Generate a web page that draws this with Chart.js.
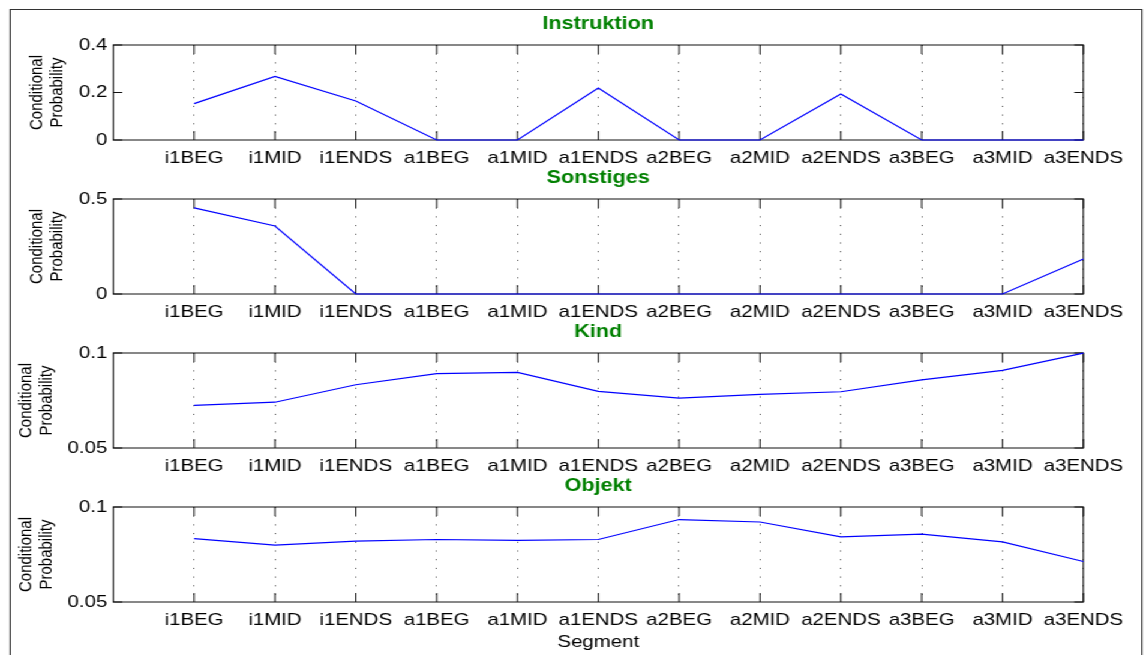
<!DOCTYPE html>
<html>
<head>
<meta charset="utf-8">
<script src="https://cdn.jsdelivr.net/npm/chart.js@4.4.1/dist/chart.umd.min.js"></script>
<style>
  html, body { margin: 0; padding: 0; background: #fff; overflow: hidden; }
  /* the figure is laid out narrow and widened horizontally as one piece */
  #fig { position: absolute; left: 0; top: 0; width: 955px; height: 655px;
         transform: scaleX(1.2); transform-origin: 0 0; }
  #frame { position: absolute; left: 7.9px; top: 9px; width: 944px; height: 700px;
           border: 1px solid #333; box-sizing: border-box; }
  canvas { position: absolute; left: 0; }
</style>
</head>
<body>
<div id="fig">
  <div id="frame"></div>
  <canvas id="p0" width="955" height="175" style="top:0px"></canvas>
  <canvas id="p1" width="955" height="175" style="top:154px"></canvas>
  <canvas id="p2" width="955" height="175" style="top:308px"></canvas>
  <canvas id="p3" width="955" height="193" style="top:462px"></canvas>
</div>
<script>
// Segment categories along the x axis
const segments = ['i1BEG', 'i1MID', 'i1ENDS', 'a1BEG', 'a1MID', 'a1ENDS',
                  'a2BEG', 'a2MID', 'a2ENDS', 'a3BEG', 'a3MID', 'a3ENDS'];

// Conditional probability per segment, one list per class
const instruktion = [0.153, 0.268, 0.164, 0, 0, 0.219, 0, 0, 0.194, 0, 0, 0];
const sonstiges   = [0.453, 0.358, 0, 0, 0, 0, 0, 0, 0, 0, 0, 0.184];
const kind        = [0.0724, 0.0741, 0.0833, 0.0891, 0.0898, 0.0798,
                     0.0762, 0.0782, 0.0796, 0.0859, 0.0909, 0.0999];
const objekt      = [0.0834, 0.0799, 0.0820, 0.0829, 0.0824, 0.0829,
                     0.0934, 0.0921, 0.0843, 0.0857, 0.0816, 0.0713];

const panelTitles = ['Instruktion', 'Sonstiges', 'Kind', 'Objekt'];
const yTickValues = [[0, 0.2, 0.4], [0, 0.5], [0.05, 0.1], [0.05, 0.1]];
const yAxisLabel = ['Conditional', 'Probability'];
const xAxisLabel = 'Segment';

const seriesList = [instruktion, sonstiges, kind, objekt];

const FONT = "'Liberation Sans', Arial, Helvetica, sans-serif";
const PLOT_LEFT = 94.4;
const PLOT_RIGHT_PAD = 52.2;
const PLOT_BOTTOM = 140;

// Axes box with inward tick marks, drawn under the data line
const axesBox = {
  id: 'axesBox',
  beforeDatasetsDraw(chart) {
    const { ctx, chartArea: a, scales: { x, y } } = chart;
    ctx.save();
    ctx.strokeStyle = '#111';
    ctx.lineWidth = 1;
    ctx.beginPath();
    x.ticks.forEach(t => {
      if (t.value === 0) return;
      const px = x.getPixelForValue(t.value);
      ctx.moveTo(px, a.bottom); ctx.lineTo(px, a.bottom - 9);
      ctx.moveTo(px, a.top);    ctx.lineTo(px, a.top + 9);
    });
    y.ticks.forEach(t => {
      const py = y.getPixelForValue(t.value);
      ctx.moveTo(a.left, py);  ctx.lineTo(a.left + 7.5, py);
      ctx.moveTo(a.right, py); ctx.lineTo(a.right - 7.5, py);
    });
    ctx.stroke();
    ctx.strokeRect(a.left, a.top, a.right - a.left, a.bottom - a.top);
    ctx.restore();
  }
};

seriesList.forEach((values, k) => {
  const canvas = document.getElementById('p' + k);
  const H = canvas.height;
  const yt = yTickValues[k];
  const last = k === seriesList.length - 1;

  new Chart(canvas, {
    type: 'line',
    data: {
      datasets: [{
        data: values.map((v, i) => ({ x: i + 1, y: v })),
        borderColor: '#0000ff',
        borderWidth: 1.2,
        pointRadius: 0,
        tension: 0,
        fill: false,
        clip: false
      }]
    },
    options: {
      responsive: false,
      animation: false,
      devicePixelRatio: 1,
      layout: { padding: { left: 0, right: PLOT_RIGHT_PAD, top: 0, bottom: 0 } },
      plugins: {
        legend: { display: false },
        tooltip: { enabled: false },
        title: {
          display: true,
          text: panelTitles[k],
          fullSize: false,
          color: '#008000',
          font: { family: FONT, size: 18, weight: 'bold' },
          padding: { top: 13.7, bottom: 9.7 }
        }
      },
      scales: {
        x: {
          type: 'linear',
          min: 0,
          max: segments.length,
          afterFit(s) { s.height = H - PLOT_BOTTOM; },
          ticks: {
            stepSize: 1,
            autoSkip: false,
            maxRotation: 0,
            minRotation: 0,
            padding: 8.5,
            color: '#000',
            font: { family: FONT, size: 17 },
            callback: v => segments[v - 1] || ''
          },
          grid: {
            display: true,
            drawTicks: false,
            lineWidth: 1,
            color: c => (c.tick && c.tick.value > 0) ? '#444' : 'rgba(0,0,0,0)'
          },
          border: { display: false, dash: [1, 7.7] },
          title: {
            display: last,
            text: xAxisLabel,
            color: '#000',
            font: { family: FONT, size: 17 },
            padding: { top: 0, bottom: 2.8 }
          }
        },
        y: {
          type: 'linear',
          min: yt[0],
          max: yt[yt.length - 1],
          afterFit(s) { s.width = PLOT_LEFT; },
          ticks: {
            stepSize: yt[1] - yt[0],
            padding: 5,
            color: '#000',
            font: { family: FONT, size: 17 },
            callback: v => String(+(+v).toFixed(4))
          },
          grid: { display: false, drawTicks: false },
          border: { display: false },
          title: {
            display: true,
            text: yAxisLabel,
            color: '#000',
            font: { family: FONT, size: 15, lineHeight: 1.1 },
            padding: { top: k < 2 ? 22.9 : 14, bottom: 0 }
          }
        }
      }
    },
    plugins: [axesBox]
  });
});
</script>
</body>
</html>
